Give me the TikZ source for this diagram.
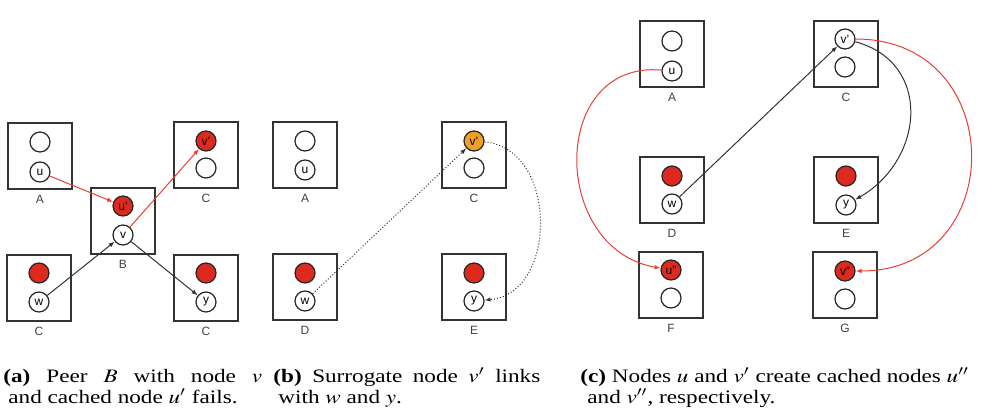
\documentclass[tikz,border=0pt]{standalone}
\usepackage{mathptmx}
\usepackage{fontspec}
\setmainfont{Liberation Serif}
\setsansfont{Liberation Sans}
\usepackage{graphicx}
\usetikzlibrary{arrows.meta,positioning}
\definecolor{failred}{RGB}{222,42,30}
\definecolor{linkred}{RGB}{232,62,52}
\definecolor{surorange}{RGB}{240,160,36}
\newcommand{\capline}[2]{\scalebox{1.22}[1]{\makebox[#1][s]{#2}}}
\newcommand{\capfree}[1]{\scalebox{1.22}[1]{#1}}
\begin{document}
\begin{tikzpicture}[x=0.5pt,y=-0.5pt,
  peer/.style={draw=black!80,line width=1pt,minimum width=32pt,minimum height=33pt,inner sep=0pt},
  vn/.style={circle,draw=black!85,line width=0.6pt,minimum size=10pt,inner sep=0pt,font=\sffamily\fontsize{6}{6}\selectfont},
  dead/.style={vn,fill=failred},
  sur/.style={vn,fill=surorange},
  plab/.style={font=\sffamily\fontsize{6}{6}\selectfont,text=black!75,inner sep=1pt},
  link/.style={-{Latex[length=3pt,width=2.2pt]},line width=0.5pt,draw=black!80},
  cache/.style={link,draw=linkred},
  probe/.style={link,densely dotted},
  captxt/.style={font=\fontsize{9.5}{11}\selectfont,inner sep=0pt,anchor=base west,text depth=0.5pt},
  captxtb/.style={captxt,text height=6pt}]
  \useasboundingbox (0,0) rectangle (992,414);
  % (a) peer B fails
  \node[peer] (aA) at (40,156) {};   \node[plab,below=1.3pt of aA] (laA) {A};
  \node[vn] (aA1) at (40,142) {};    \node[vn] (au) at (40,172) {u};
  \node[peer] (aB) at (123,221) {};  \node[plab,below=1.3pt of aB] (laB) {B};
  \node[dead] (aup) at (123,206) {u'}; \node[vn] (av) at (123,235) {v};
  \node[peer] (aC) at (206,155) {};  \node[plab,below=1.3pt of aC] (laC) {C};
  \node[dead] (avp) at (206,141) {v'}; \node[vn] (aC2) at (206,168) {};
  \node[peer] (aW) at (39,288) {};   \node[plab,below=1.3pt of aW] (laW) {C};
  \node[dead] (aW1) at (39,273) {};  \node[vn] (aw) at (39,302) {w};
  \node[peer] (aY) at (206,288) {};  \node[plab,below=1.3pt of aY] (laY) {C};
  \node[dead] (aY1) at (206,273) {}; \node[vn] (ay) at (206,302) {y};
  \draw[cache] (au) -- (aup);
  \draw[cache] (av) -- (avp);
  \draw[link] (aw) -- (av);
  \draw[link] (av) -- (ay);
  % (b) surrogate v'
  \node[peer] (bA) at (305,155) {};  \node[plab,below=1.3pt of bA] (lbA) {A};
  \node[vn] (bA1) at (305,141) {};   \node[vn] (bu) at (305,170) {u};
  \node[peer] (bC) at (474,155) {};  \node[plab,below=1.3pt of bC] (lbC) {C};
  \node[sur] (bvp) at (474,141) {v'}; \node[vn] (bC2) at (474,168) {};
  \node[peer] (bD) at (305,287) {};  \node[plab,below=1.3pt of bD] (lbD) {D};
  \node[dead] (bD1) at (305,273) {}; \node[vn] (bw) at (305,301) {w};
  \node[peer] (bE) at (474,287) {};  \node[plab,below=1.3pt of bE] (lbE) {E};
  \node[dead] (bE1) at (474,273) {}; \node[vn] (by) at (474,301) {y};
  \draw[probe] (bw) -- (bvp);
  \draw[probe] (bvp) to[out=-5,in=5,looseness=1.2] (by);
  % (c) cached copies u'' and v''
  \node[peer] (cA) at (672,54) {};   \node[plab,below=1.3pt of cA] (lcA) {A};
  \node[vn] (cA1) at (672,41) {};    \node[vn] (cu) at (672,71) {u};
  \node[peer] (cC) at (846,54) {};   \node[plab,below=1.3pt of cC] (lcC) {C};
  \node[vn] (cvp) at (845,39) {v'};  \node[vn] (cC2) at (845,67) {};
  \node[peer] (cD) at (672,190) {};  \node[plab,below=1.3pt of cD] (lcD) {D};
  \node[dead] (cD1) at (672,176) {}; \node[vn] (cw) at (672,204) {w};
  \node[peer] (cE) at (846,190) {};  \node[plab,below=1.3pt of cE] (lcE) {E};
  \node[dead] (cE1) at (846,176) {}; \node[vn] (cy) at (846,205) {y};
  \node[peer] (cF) at (671,285) {};  \node[plab,below=1.3pt of cF] (lcF) {F};
  \node[dead] (cupp) at (671,270) {u''}; \node[vn] (cF2) at (671,298) {};
  \node[peer] (cG) at (845,285) {};  \node[plab,below=1.3pt of cG] (lcG) {G};
  \node[dead] (cvpp) at (845,271) {v''}; \node[vn] (cG2) at (845,299) {};
  \draw[link] (cw) -- (cvp);
  \draw[link] (cvp) to[out=-15,in=30,looseness=1.3] (cy);
  \draw[cache] (cu) to[out=175,in=170,looseness=1.45] (cupp);
  \draw[cache] (cvp) to[out=0,in=0,looseness=1.7] (cvpp);
  % captions
  \node[captxt] (capa1) at (3,382) {\capline{106.1pt}{\textbf{(a)} Peer $B$ with node $v$}};
  \node[captxtb] (capa2) at (8,403) {\capfree{and cached node $u'$ fails.}};
  \node[captxt] (capb1) at (273,382) {\capline{109.4pt}{\textbf{(b)} Surrogate node $v'$ links}};
  \node[captxtb] (capb2) at (278,403) {\capfree{with $w$ and $y$.}};
  \node[captxt] (capc1) at (580,382) {\capfree{\textbf{(c)} Nodes $u$ and $v'$ create cached nodes $u''$}};
  \node[captxtb] (capc2) at (587,403) {\capfree{and $v''$, respectively.}};
\end{tikzpicture}
\end{document}
